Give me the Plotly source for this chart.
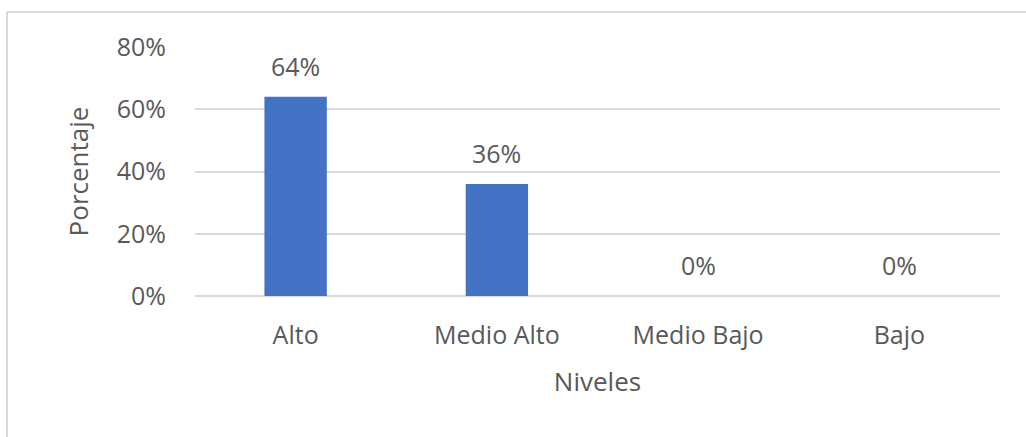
import plotly.graph_objects as go

categories = ["Alto", "Medio Alto", "Medio Bajo", "Bajo"]
values = [64, 36, 0, 0]
label_texts = ["64%", "36%", "0%", "0%"]
tick_vals = [0, 20, 40, 60, 80]
tick_text = ["0%", "20%", "40%", "60%", "80%"]

font_family = "Open Sans, sans-serif"
gray = "#595959"

fig = go.Figure(go.Bar(
    x=categories, y=values,
    marker=dict(color="#4472C4", line=dict(width=0)),
    cliponaxis=False, width=0.31, hoverinfo="x+y",
))

for c, v, t in zip(categories, values, label_texts):
    fig.add_annotation(x=c, y=v, text=t, showarrow=False, yanchor="bottom",
                       yshift=12, font=dict(size=25, color=gray, family=font_family))

L, R, T, B = 195, 26, 47, 141
W, H = 1026, 437
pw, ph = W - L - R, H - T - B

def px_x(x):
    return (x - L) / pw

def px_y(y):
    return (H - B - y) / ph

border = "#d9d9d9"
fig.add_shape(type="line", xref="paper", yref="paper",
              x0=px_x(7), x1=px_x(1026), y0=px_y(12), y1=px_y(12),
              line=dict(color=border, width=2))
fig.add_shape(type="line", xref="paper", yref="paper",
              x0=px_x(7), x1=px_x(7), y0=px_y(12), y1=px_y(437),
              line=dict(color=border, width=2))

fig.update_layout(
    width=W, height=H, margin=dict(l=L, r=R, t=T, b=B),
    paper_bgcolor="white", plot_bgcolor="white",
    font=dict(family=font_family, color=gray, size=25),
    showlegend=False,
    xaxis=dict(
        title=dict(text="Niveles", font=dict(size=26, color=gray), standoff=22),
        tickfont=dict(size=25, color=gray), showgrid=False, showline=False,
        ticks="", ticklabelstandoff=22,
    ),
    yaxis=dict(
        title=dict(text="Porcentaje", font=dict(size=26, color=gray), standoff=20),
        range=[0, 80], tickvals=tick_vals, ticktext=tick_text,
        tickfont=dict(size=25, color=gray), showgrid=True,
        gridcolor=border, gridwidth=2, zeroline=True, zerolinecolor=border,
        zerolinewidth=2, showline=False, ticks="", ticklabelstandoff=28,
    ),
)

fig.write_html("out.html")
